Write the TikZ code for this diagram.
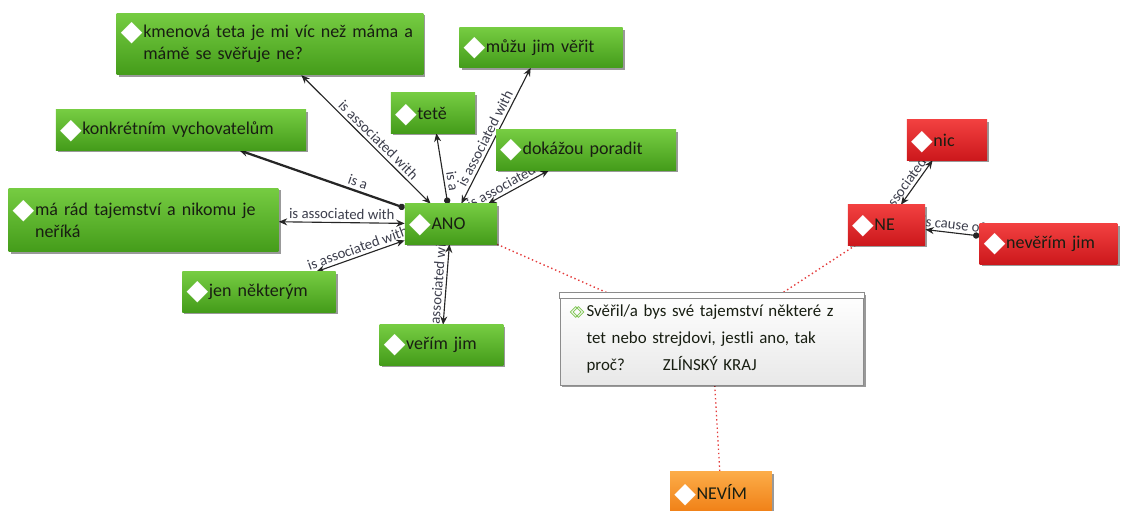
\documentclass[tikz,border=0pt]{standalone}
\usepackage{fontspec}
\setmainfont{Carlito}
\newfontfamily\symfont{DejaVu Sans}
\usetikzlibrary{arrows.meta, positioning, calc, shadows, backgrounds}
\definecolor{gTop}{RGB}{118, 204, 66}
\definecolor{gBot}{RGB}{68, 156, 26}
\definecolor{rTop}{RGB}{242, 64, 64}
\definecolor{rBot}{RGB}{204, 24, 28}
\definecolor{oTop}{RGB}{252, 172, 72}
\definecolor{oBot}{RGB}{240, 128, 22}
\definecolor{tDark}{RGB}{24, 30, 18}
\definecolor{lGray}{RGB}{60, 62, 76}
\definecolor{iconGreen}{RGB}{110, 190, 60}
\definecolor{dotRed}{RGB}{228, 60, 60}

\newcommand{\dmd}{\raisebox{-2.2pt}[0pt][0pt]{\symfont\fontsize{20}{20}\selectfont\textcolor{white}{◆}}\hspace{0.5pt}}
\newcommand{\memoicon}{{\symfont\fontsize{11}{11}\selectfont\textcolor{iconGreen}{◇\kern-0.6em◇}}\hspace{1.5pt}}

\begin{document}
\begin{tikzpicture}[
    x=0.025cm, y=-0.025cm,
    concept/.style={
        top color=gTop, bottom color=gBot,
        text=tDark,
        font=\fontsize{12.8}{15.6}\selectfont,
        align=left,
        inner xsep=3pt, inner ysep=2pt,
        minimum height=28.5pt,
        drop shadow={shadow xshift=1.5pt, shadow yshift=-1.5pt, opacity=0.4, fill=black}
    },
    negative/.style={concept, top color=rTop, bottom color=rBot},
    unsure/.style={concept, top color=oTop, bottom color=oBot},
    memobox/.style={
        top color=white, bottom color=black!9,
        draw=black!45, line width=0.6pt,
        text=tDark,
        font=\fontsize{12}{19}\selectfont,
        align=left,
        inner xsep=7pt,
        minimum height=65.4pt,
        drop shadow={shadow xshift=1.5pt, shadow yshift=-1.5pt, opacity=0.4, fill=black}
    },
    link/.style={{Stealth[length=6pt,width=5pt]}-{Stealth[length=6pt,width=5pt]}, line width=0.8pt, draw=black!85},
    cause/.style={{Stealth[length=6pt,width=5pt]}-{Circle[length=4.5pt]}, line width=0.8pt, draw=black!85},
    lbl/.style={font=\fontsize{10.5}{11}\selectfont, text=lGray, inner sep=2pt, sloped},
    memo/.style={dotted, draw=dotRed, line width=1pt}
]

\useasboundingbox (0,0) rectangle (1123,511);

% green cluster around ANO
\node[concept, text width=59.5pt] (ANO) at (451,224) {\dmd ANO};
\node[concept, text width=212pt, minimum height=44pt] (kmen) at (270,44) {\dmd kmenová teta je mi víc než máma a\\\phantom{\dmd}mámě se svěřuje ne?};
\node[concept, text width=110pt] (muzu) at (541,47.5) {\dmd můžu jim věřit};
\node[concept, text width=54pt] (tete) at (433,113) {\dmd tetě};
\node[concept, text width=172pt] (konkr) at (181,130) {\dmd konkrétním vychovatelům};
\node[concept, text width=122pt] (dokazou) at (586,150) {\dmd dokážou poradit};
\node[concept, text width=186pt, minimum height=45.5pt] (marad) at (143.5,220) {\dmd má rád tajemství a nikomu je\\\phantom{\dmd}neříká};
\node[concept, text width=103pt] (jen) at (259,292) {\dmd jen některým};
\node[concept, text width=82pt] (verim) at (441.5,345) {\dmd veřím jim};

% red cluster around NE
\node[negative, text width=49pt] (NE) at (886.5,225) {\dmd NE};
\node[negative, text width=51pt] (nic) at (947,140) {\dmd nic};
\node[negative, text width=92pt] (neverim) at (1048.5,244) {\dmd nevěřím jim};

% question memo
\node[memobox, text width=202pt] (note) at (712,339) {\memoicon Svěřil/a bys své tajemství některé z\\\phantom{\memoicon}tet nebo strejdovi, jestli ano, tak\\\phantom{\memoicon}proč?\hspace{27pt}ZLÍNSKÝ KRAJ};
\draw[draw=black!45, fill=white, line width=0.6pt] (note.north west) rectangle ($(note.north east)+(0,6)$);

\node[unsure, text width=66.5pt] (NEVIM) at (721,492) {\dmd NEVÍM};

\begin{scope}[on background layer]
\draw[link] (kmen) -- node[lbl, above, pos=0.55]{is associated with} (ANO);
\draw[link] (ANO) -- node[lbl, above, pos=0.45]{is associated with} (muzu);
\draw[cause] (tete) -- node[lbl, above, pos=0.7]{is a} (ANO);
\draw[link] (ANO) -- node[lbl, above, pos=0.5]{is associated with} (dokazou);
\draw[cause, line width=1.6pt] (konkr) -- node[lbl, above, pos=0.7]{is a} (ANO);
\draw[link] (marad) -- node[lbl, above, pos=0.5]{is associated with} (ANO);
\draw[link] (jen) -- node[lbl, above, pos=0.5]{is associated with} (ANO);
\draw[link] (verim) -- node[lbl, above, pos=0.5]{is associated with} (ANO);
\draw[link] (NE) -- node[lbl, above, pos=0.5]{is associated with} (nic);
\draw[cause] (NE) -- node[lbl, above, pos=0.5]{is cause of} (neverim);

\draw[memo] (ANO) -- (note);
\draw[memo] (NE) -- (note);
\draw[memo] (note) -- (NEVIM);
\end{scope}

\end{tikzpicture}
\end{document}
